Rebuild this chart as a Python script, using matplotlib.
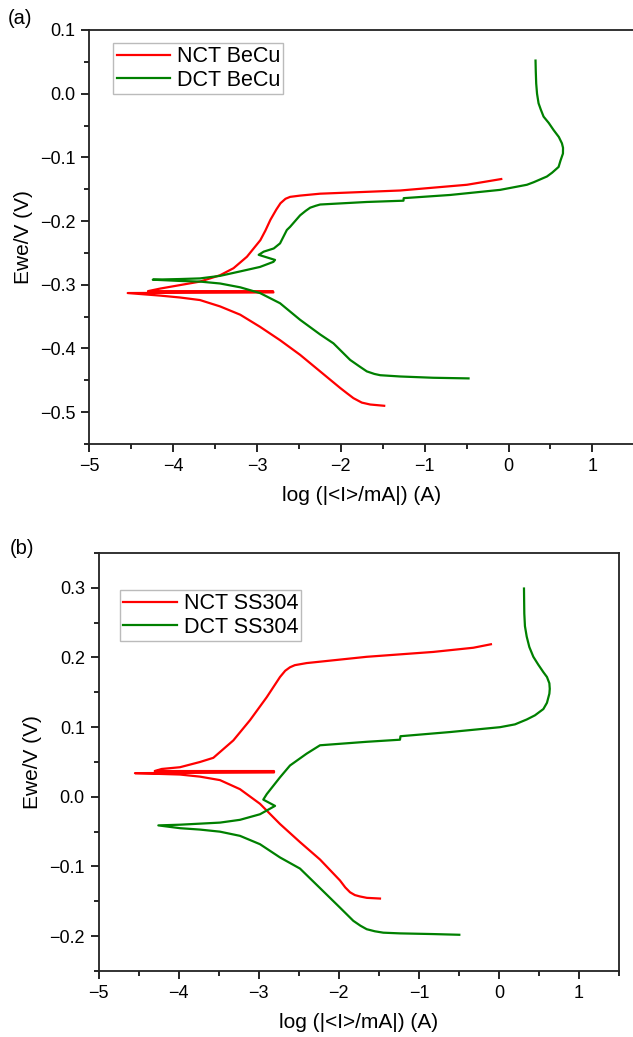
import matplotlib
matplotlib.use("Agg")
import matplotlib.pyplot as plt
from matplotlib.ticker import MultipleLocator

plt.rcParams['font.family'] = ['Liberation Sans', 'DejaVu Sans']

# ---------------- Panel (a): BeCu ----------------
a_nct_x = [-1.483, -1.65, -1.75, -1.85, -1.93, -2.008, -2.247, -2.486, -2.725, -2.964, -3.2, -3.44, -3.68, -3.917,
           -4.156, -4.542, -2.804, -2.81, -4.3, -4.156, -3.68, -3.44, -3.28, -3.12, -2.96, -2.9, -2.84, -2.77,
           -2.72, -2.66, -2.605, -2.486, -2.247, -1.292, -0.496, -0.087]
a_nct_y = [-0.490, -0.488, -0.485, -0.478, -0.470, -0.462, -0.436, -0.410, -0.387, -0.366, -0.347, -0.334, -0.324,
           -0.320, -0.317, -0.313, -0.312, -0.310, -0.310, -0.306, -0.295, -0.285, -0.274, -0.256, -0.230, -0.215,
           -0.198, -0.182, -0.172, -0.165, -0.162, -0.160, -0.157, -0.152, -0.143, -0.134]

a_dct_x = [-0.477, -0.9, -1.292, -1.53, -1.6, -1.69, -1.78, -1.889, -2.088, -2.247, -2.486, -2.725, -2.964, -3.2,
           -3.44, -3.68, -3.917, -4.243, -3.917, -3.68, -3.44, -3.2, -2.964, -2.804, -2.785, -2.98, -2.92, -2.8,
           -2.725, -2.644, -2.605, -2.486, -2.42, -2.366, -2.3, -2.247, -1.69, -1.253, -1.25, -0.696, -0.1,
           0.219, 0.3, 0.458, 0.52, 0.597, 0.62, 0.649, 0.65, 0.637, 0.6, 0.537, 0.48, 0.418, 0.385, 0.358,
           0.34, 0.33, 0.325, 0.322]
a_dct_y = [-0.447, -0.446, -0.444, -0.442, -0.440, -0.436, -0.428, -0.418, -0.392, -0.378, -0.355, -0.329, -0.313,
           -0.304, -0.298, -0.295, -0.294, -0.292, -0.291, -0.290, -0.286, -0.279, -0.272, -0.264, -0.261, -0.253,
           -0.248, -0.243, -0.235, -0.214, -0.209, -0.191, -0.184, -0.179, -0.176, -0.174, -0.170, -0.168, -0.164,
           -0.159, -0.151, -0.143, -0.139, -0.130, -0.124, -0.115, -0.105, -0.094, -0.085, -0.078, -0.068, -0.057,
           -0.046, -0.036, -0.025, -0.015, 0.000, 0.016, 0.035, 0.052]

# ---------------- Panel (b): SS304 ----------------
b_nct_x = [-1.486, -1.65, -1.736, -1.8, -1.86, -1.92, -1.986, -2.235, -2.485, -2.735, -2.985, -3.235, -3.485,
           -3.735, -3.985, -4.547, -2.81, -2.81, -4.3, -4.213, -3.985, -3.735, -3.568, -3.318, -3.11, -2.901,
           -2.735, -2.67, -2.61, -2.55, -2.402, -2.235, -1.652, -0.82, -0.32, -0.1]
b_nct_y = [-0.146, -0.145, -0.143, -0.141, -0.137, -0.130, -0.120, -0.090, -0.065, -0.039, -0.010, 0.011, 0.024,
           0.029, 0.032, 0.034, 0.035, 0.037, 0.037, 0.040, 0.0425, 0.050, 0.056, 0.081, 0.110, 0.143,
           0.172, 0.181, 0.186, 0.189, 0.192, 0.194, 0.201, 0.208, 0.214, 0.219]

b_dct_x = [-0.495, -0.82, -1.236, -1.444, -1.55, -1.652, -1.73, -1.819, -1.986, -2.235, -2.485, -2.735, -2.985,
           -3.235, -3.485, -3.735, -3.985, -4.255, -3.985, -3.485, -3.235, -2.985, -2.797, -2.944, -2.9, -2.735,
           -2.61, -2.402, -2.277, -2.235, -1.652, -1.236, -1.23, -0.61, 0.015, 0.2, 0.347, 0.45, 0.555, 0.6,
           0.63, 0.635, 0.63, 0.6, 0.555, 0.49, 0.43, 0.38, 0.347, 0.325, 0.317, 0.315, 0.313]
b_dct_y = [-0.198, -0.197, -0.196, -0.195, -0.193, -0.190, -0.185, -0.178, -0.159, -0.131, -0.103, -0.087, -0.068,
           -0.056, -0.050, -0.047, -0.045, -0.041, -0.040, -0.037, -0.033, -0.025, -0.013, -0.004, 0.004, 0.028,
           0.045, 0.062, 0.071, 0.074, 0.079, 0.082, 0.087, 0.093, 0.100, 0.104, 0.111, 0.117, 0.126, 0.135,
           0.148, 0.155, 0.163, 0.172, 0.179, 0.190, 0.201, 0.215, 0.230, 0.245, 0.263, 0.280, 0.299]

a_labels = ["NCT BeCu", "DCT BeCu"]
b_labels = ["NCT SS304", "DCT SS304"]
x_ticks = [-5, -4, -3, -2, -1, 0, 1]
a_yticks = [-0.5, -0.4, -0.3, -0.2, -0.1, 0.0, 0.1]
b_yticks = [-0.2, -0.1, 0.0, 0.1, 0.2, 0.3]

RED = '#ff0000'
GREEN = '#008000'
W, H = 633, 1037
fig = plt.figure(figsize=(W / 100, H / 100), dpi=100)

ax_a = fig.add_axes([89.3 / W, 1 - 444 / H, 545 / W, 414 / H])
ax_b = fig.add_axes([98.7 / W, 1 - 971 / H, 520.3 / W, 418 / H])


def style(ax, yticks, ylim, labels, lx, ly):
    ax.set_xlim(-5, 1.5)
    ax.set_ylim(*ylim)
    ax.set_xticks(x_ticks)
    ax.set_yticks(yticks)
    ax.xaxis.set_minor_locator(MultipleLocator(0.5))
    ax.yaxis.set_minor_locator(MultipleLocator(0.05))
    ax.set_xticklabels([str(t).replace('-', '\u2212') for t in x_ticks])
    ax.set_yticklabels([f"{t:.1f}".replace('-', '\u2212') for t in yticks])
    ax.tick_params(which='both', direction='out', top=False, right=False, width=1.2,
                   labelsize=13, pad=4)
    ax.tick_params(which='major', length=6)
    ax.tick_params(which='minor', length=3.5)
    for s in ax.spines.values():
        s.set_linewidth(1.3)
        s.set_color('#222222')
    ax.set_xlabel("log (|<I>/mA|) (A)", fontsize=15, labelpad=8)
    ax.set_ylabel("Ewe/V (V)", fontsize=15, labelpad=5)
    leg = ax.legend(labels, loc='upper left', bbox_to_anchor=(lx, ly), fontsize=15.5,
                    frameon=True, fancybox=False, edgecolor='#aaaaaa', borderpad=0.15,
                    handlelength=2.5, handletextpad=0.3, labelspacing=0.12, borderaxespad=0)
    leg.get_frame().set_linewidth(1.0)


ax_a.plot(a_nct_x, a_nct_y, color=RED, lw=1.6)
ax_a.plot(a_dct_x, a_dct_y, color=GREEN, lw=1.6)
style(ax_a, a_yticks, (-0.55, 0.1), a_labels, 0.044, 0.969)

ax_b.plot(b_nct_x, b_nct_y, color=RED, lw=1.6)
ax_b.plot(b_dct_x, b_dct_y, color=GREEN, lw=1.6)
style(ax_b, b_yticks, (-0.25, 0.35), b_labels, 0.041, 0.911)

fig.text(8 / W, 1 - 18 / H, "(a)", fontsize=14.5, va='center', ha='left')
fig.text(10 / W, 1 - 548 / H, "(b)", fontsize=14.5, va='center', ha='left')

fig.savefig("out.png", dpi=100)
